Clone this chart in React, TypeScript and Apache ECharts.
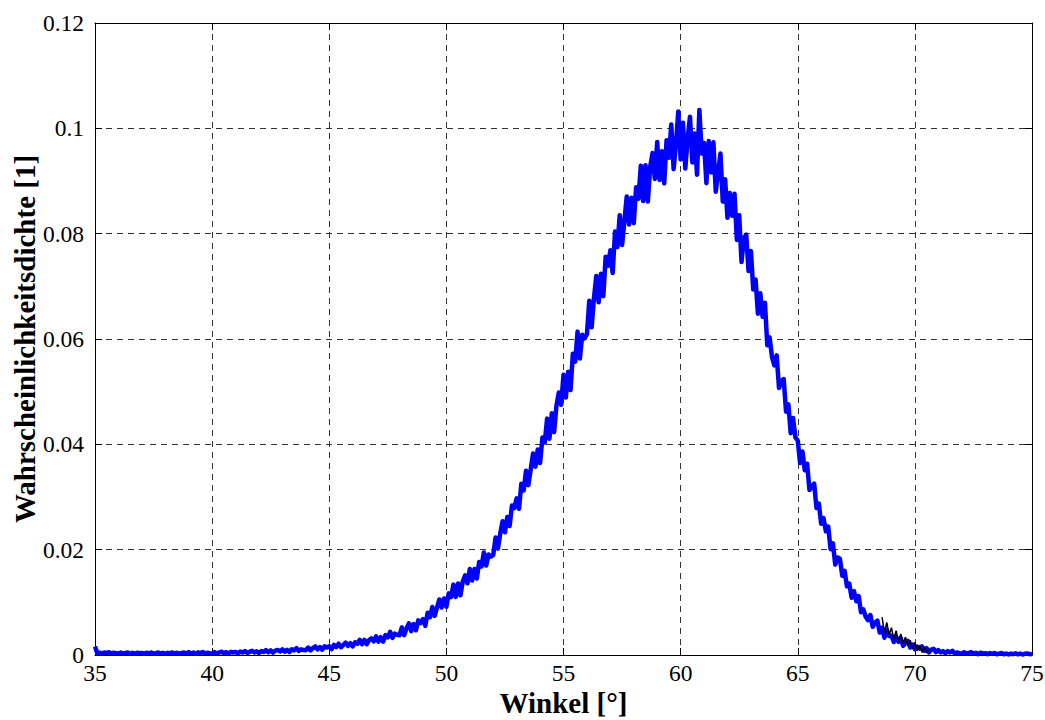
import React, { useEffect, useRef } from "react";
import * as echarts from "echarts";

// Angle grid of the measured density: start 35°, step 0.1°
const angleStart = 35;
const angleStep = 0.1;

// Measured probability density (blue), rows of 10 values per degree 35..74, then 75
const density: number[] = [
  0.0016, 0.0003, 0.00045, 0.00027, 0.00048, 0.00037, 0.00054, 0.0003, 0.00042, 0.00034,
  0.00027, 0.00046, 0.00023, 0.00038, 0.00049, 0.00026, 0.00041, 0.00022, 0.00044, 0.00034,
  0.0004, 0.00022, 0.00044, 0.0003, 0.00047, 0.00025, 0.00037, 0.00049, 0.00028, 0.00041,
  0.00023, 0.00041, 0.00032, 0.00049, 0.00026, 0.00044, 0.00022, 0.0004, 0.00046, 0.00029,
  0.00056, 0.00028, 0.00046, 0.00022, 0.0005, 0.00036, 0.00058, 0.00026, 0.00042, 0.00032,
  0.0003, 0.00055, 0.00026, 0.00047, 0.00062, 0.00033, 0.00054, 0.00029, 0.0006, 0.00047,
  0.00058, 0.00029, 0.00067, 0.00046, 0.00074, 0.00038, 0.00059, 0.0008, 0.00046, 0.00069,
  0.00036, 0.00074, 0.00058, 0.00093, 0.0005, 0.00088, 0.00045, 0.00083, 0.00097, 0.00066,
  0.00108, 0.00062, 0.00097, 0.00058, 0.0011, 0.00088, 0.0013, 0.00077, 0.00108, 0.00093,
  0.0009, 0.00142, 0.00086, 0.0013, 0.00162, 0.00106, 0.0015, 0.00102, 0.00166, 0.00142,
  0.00165, 0.00111, 0.00192, 0.00153, 0.00214, 0.00145, 0.00191, 0.00237, 0.00173, 0.00224,
  0.00162, 0.00242, 0.00214, 0.00288, 0.00206, 0.00286, 0.00204, 0.00284, 0.00316, 0.00258,
  0.00354, 0.00254, 0.00338, 0.00254, 0.00378, 0.00334, 0.00438, 0.00326, 0.00406, 0.00382,
  0.00375, 0.00525, 0.00378, 0.00506, 0.00601, 0.00454, 0.00588, 0.00469, 0.00658, 0.00605,
  0.00682, 0.00554, 0.00804, 0.00718, 0.00912, 0.00742, 0.00898, 0.01054, 0.00902, 0.01072,
  0.00916, 0.0117, 0.011, 0.01336, 0.01104, 0.01358, 0.01134, 0.01396, 0.01514, 0.01362,
  0.01632, 0.01414, 0.01633, 0.01453, 0.01767, 0.01682, 0.01947, 0.01699, 0.01907, 0.01868,
  0.019, 0.0223, 0.0202, 0.0231, 0.0254, 0.0233, 0.0262, 0.0245, 0.0284, 0.0279,
  0.02975, 0.02775, 0.0325, 0.03125, 0.035, 0.03225, 0.03525, 0.03825, 0.03575, 0.039,
  0.03644, 0.04128, 0.04036, 0.04488, 0.04108, 0.04592, 0.04232, 0.04736, 0.04984, 0.04752,
  0.0532, 0.0489, 0.0538, 0.0503, 0.0572, 0.0557, 0.0614, 0.0563, 0.0608, 0.0601,
  0.0609, 0.06724, 0.06224, 0.06774, 0.07198, 0.06698, 0.07238, 0.06812, 0.07562, 0.07388,
  0.07685, 0.07255, 0.0804, 0.07745, 0.0835, 0.07785, 0.08245, 0.08705, 0.08175, 0.0868,
  0.082, 0.0888, 0.0866, 0.0929, 0.0862, 0.093, 0.0861, 0.0927, 0.0953, 0.0904,
  0.0974, 0.0902, 0.09565, 0.08955, 0.09775, 0.0944, 0.10075, 0.09225, 0.09695, 0.1032,
  0.0941, 0.10106, 0.09236, 0.09816, 0.10222, 0.09352, 0.09902, 0.09118, 0.1035, 0.09522,
  0.09724, 0.08958, 0.09758, 0.09166, 0.09734, 0.08794, 0.09158, 0.09522, 0.0861, 0.09032,
  0.083, 0.0877, 0.0834, 0.0876, 0.0788, 0.0835, 0.0746, 0.0792, 0.0798, 0.0729,
  0.0767, 0.0694, 0.0713, 0.0648, 0.0687, 0.0642, 0.0669, 0.0588, 0.0603, 0.0566,
  0.055, 0.0569, 0.0507, 0.052, 0.0524, 0.0462, 0.0476, 0.0421, 0.045, 0.0413,
  0.04072, 0.03644, 0.03864, 0.03508, 0.03632, 0.03132, 0.03194, 0.03256, 0.0279, 0.02876,
  0.0249, 0.026, 0.0235, 0.0244, 0.0201, 0.0212, 0.01716, 0.01852, 0.01828, 0.01504,
  0.016, 0.01304, 0.01353, 0.01087, 0.01211, 0.0102, 0.01119, 0.00813, 0.00867, 0.00726,
  0.0066, 0.0076, 0.00536, 0.00612, 0.00652, 0.00428, 0.00516, 0.00328, 0.00476, 0.0036,
  0.00364, 0.00246, 0.00344, 0.0025, 0.00316, 0.00174, 0.00222, 0.0027, 0.00142, 0.00198,
  0.0011, 0.0016, 0.0012, 0.00165, 0.0008, 0.0013, 0.00049, 0.00103, 0.00117, 0.00056,
  0.00094, 0.00049, 0.00073, 0.00034, 0.00073, 0.00049, 0.00079, 0.00028, 0.00049, 0.00031,
  0.0003, 0.00053, 0.00022, 0.00041, 0.00054, 0.00023, 0.00042, 0.00015, 0.00044, 0.00029,
  0.00035, 0.00016, 0.00037, 0.00023, 0.00038, 0.00015, 0.00026, 0.00037, 0.00015, 0.00027,
  0.0001, 0.00025, 0.00018, 0.00031, 0.00013, 0.00027, 0.00009, 0.00024, 0.00028, 0.00015,
  0.0002,
];

// Second (black) trace, visible only in the right tail, 68.6°..70.6° step 0.1°
const tailStart = 68.6;
const tailDensity: number[] = [
  0.0072, 0.0042, 0.0062, 0.0038, 0.0052, 0.003, 0.0046, 0.0026, 0.004, 0.0022,
  0.0034, 0.0018, 0.0028, 0.0012, 0.0024, 0.0008, 0.0018, 0.0005, 0.0015, 0.0004,
  0.0012,
];

const xTicks = { min: 35, max: 75, interval: 5 };
const yTicks = { min: 0, max: 0.12, interval: 0.02 };

const FONT = "'Liberation Serif', 'Times New Roman', serif";

export default function App() {
  const ref = useRef<HTMLDivElement>(null);
  useEffect(() => {
    if (!ref.current) return;
    const chart = echarts.init(ref.current, null, { renderer: "svg" });
    const mainData = density.map((v, i) => [
      +(angleStart + i * angleStep).toFixed(2),
      v,
    ]);
    const tailData = tailDensity.map((v, i) => [
      +(tailStart + i * angleStep).toFixed(2),
      v,
    ]);
    const tick = { show: true, inside: true, length: 7, lineStyle: { color: "#000", width: 1 } };
    const grid = { show: true, lineStyle: { color: "#333", type: [6, 5], width: 1 } };
    chart.setOption({
      animation: false,
      backgroundColor: "#fff",
      grid: {
        left: 95,
        right: 13,
        top: 23,
        bottom: 65,
        containLabel: false,
        outerBoundsMode: "none",
      },
      xAxis: [
        {
          type: "value",
          min: xTicks.min,
          max: xTicks.max,
          interval: xTicks.interval,
          position: "bottom",
          name: "Winkel [°]",
          nameLocation: "middle",
          nameGap: 33,
          nameMoveOverlap: false,
          nameTextStyle: { fontFamily: FONT, fontSize: 29, fontWeight: "bold", color: "#000" },
          axisLine: { show: true, onZero: false, lineStyle: { color: "#000", width: 1 } },
          axisTick: tick,
          axisLabel: { fontFamily: FONT, fontSize: 23.5, color: "#000", margin: 9, lineHeight: 18 },
          splitLine: grid,
        },
        {
          type: "value",
          min: xTicks.min,
          max: xTicks.max,
          interval: xTicks.interval,
          position: "top",
          axisLine: { show: true, onZero: false, lineStyle: { color: "#000", width: 1 } },
          axisTick: tick,
          axisLabel: { show: false },
          splitLine: { show: false },
        },
      ],
      yAxis: [
        {
          type: "value",
          min: yTicks.min,
          max: yTicks.max,
          interval: yTicks.interval,
          position: "left",
          name: "Wahrscheinlichkeitsdichte [1]",
          nameLocation: "middle",
          nameGap: 56,
          nameMoveOverlap: false,
          nameRotate: 90,
          nameTextStyle: { fontFamily: FONT, fontSize: 29, fontWeight: "bold", color: "#000" },
          axisLine: { show: true, onZero: false, lineStyle: { color: "#000", width: 1 } },
          axisTick: tick,
          axisLabel: {
            fontFamily: FONT,
            fontSize: 23.5,
            color: "#000",
            margin: 11,
            lineHeight: 18,
            formatter: (v: number) => String(+v.toFixed(2)),
          },
          splitLine: grid,
        },
        {
          type: "value",
          min: yTicks.min,
          max: yTicks.max,
          interval: yTicks.interval,
          position: "right",
          axisLine: { show: true, onZero: false, lineStyle: { color: "#000", width: 1 } },
          axisTick: tick,
          axisLabel: { show: false },
          splitLine: { show: false },
        },
      ],
      series: [
        {
          type: "line",
          xAxisIndex: 0,
          yAxisIndex: 0,
          data: mainData,
          showSymbol: false,
          symbol: "none",
          lineStyle: { color: "#0000ff", width: 4.5, join: "round" },
          z: 3,
        },
        {
          type: "line",
          xAxisIndex: 0,
          yAxisIndex: 0,
          data: tailData,
          showSymbol: false,
          symbol: "none",
          lineStyle: { color: "#000", width: 1.5 },
          z: 4,
        },
      ],
    });
    return () => chart.dispose();
  }, []);
  return (
    <div
      ref={ref}
      style={{ position: "absolute", left: 0, top: 0, width: 1045, height: 720 }}
    />
  );
}
